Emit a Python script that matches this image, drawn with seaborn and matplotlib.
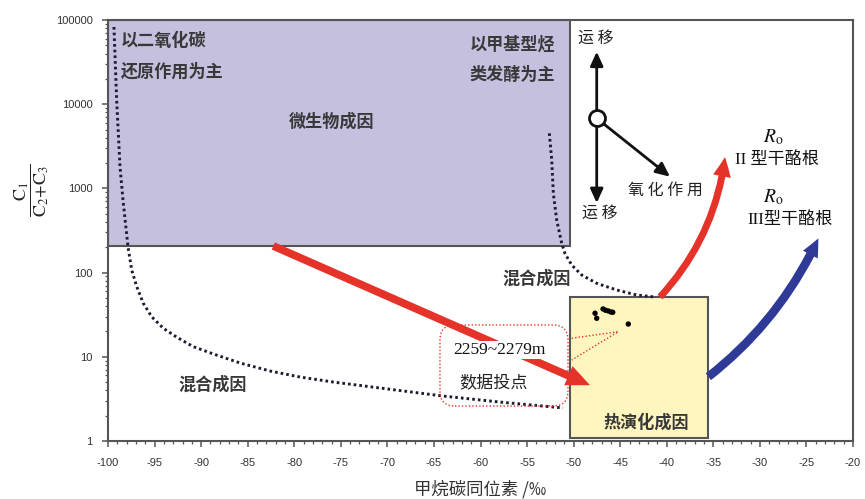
import numpy as np
import pandas as pd
import matplotlib
matplotlib.use("Agg")
import matplotlib.pyplot as plt
import seaborn as sns
from matplotlib.patches import Rectangle, FancyArrowPatch, FancyBboxPatch, ArrowStyle
from matplotlib.ticker import FixedLocator, MultipleLocator, LogLocator, NullFormatter

# ---- data -----------------------------------------------------------------
# measured gas samples (2259~2279 m): methane δ13C (‰) and C1/(C2+C3)
sample_d13c = [-47.70, -47.52, -46.84, -46.57, -46.27, -45.99, -45.80, -44.13]
sample_ratio = [32.9, 28.7, 37.0, 35.7, 35.0, 34.0, 33.8, 24.5]

# mixing boundary, CO2-reduction side
left_mix_x = [-99.36, -99.07, -98.71, -98.39, -97.85, -97.45, -96.91, -96.21,
              -95.31, -94.06, -92.62, -90.84, -88.68, -85.82, -82.60, -79.38,
              -75.84, -70.79, -64.03, -57.91, -51.14]
left_mix_y = [82600, 11200, 1795, 728, 201, 107, 68.0, 43.2,
              29.9, 21.8, 17.1, 13.2, 10.8, 8.44, 6.78, 5.75,
              5.02, 4.26, 3.42, 2.90, 2.47]

# mixing boundary, methyl-fermentation side
right_mix_x = [-52.61, -52.35, -52.18, -51.82, -51.28, -50.93, -50.21, -49.13,
               -47.52, -45.37, -43.22, -41.26]
right_mix_y = [4510, 2175, 875, 422, 223, 169, 123, 93.6,
               74.6, 62.1, 54.2, 51.3]

# genetic fields (δ13C range, ratio range)
bio_field = (-100.0, -50.4, 207.0, 100000.0)
thermo_field = (-50.4, -35.6, 1.09, 51.7)

x_ticks = [-100, -95, -90, -85, -80, -75, -70, -65, -60, -55, -50, -45, -40, -35, -30, -25, -20]
y_ticks = [1, 10, 100, 1000, 10000, 100000]
y_tick_labels = ["1", "10", "100", "1000", "10000", "100000"]

# ---- style ----------------------------------------------------------------
sns.set_theme(style="ticks")
plt.rcParams["font.family"] = ["Noto Sans CJK SC", "DejaVu Sans"]
plt.rcParams["axes.unicode_minus"] = False
plt.rcParams["mathtext.fontset"] = "stix"

CJK = ["Noto Sans CJK SC", "DejaVu Sans"]
SERIF = ["Liberation Serif", "DejaVu Serif"]
SERIF_CJK = ["Liberation Serif", "Noto Sans CJK SC"]
TXT = "#383838"
RED = "#e5332a"
BLUE = "#2f3a97"

fig = plt.figure(figsize=(8.65, 4.99), dpi=100)
ax = fig.add_axes([108 / 865, 58 / 499, 745 / 865, 421 / 499])
ax.set_yscale("log")
ax.set_xlim(-100, -20)
ax.set_ylim(1, 100000)

# genetic fields
bx0, bx1, by0, by1 = bio_field
ax.add_patch(Rectangle((bx0, by0), bx1 - bx0, by1 - by0, facecolor="#c5c0de",
                       edgecolor="#555555", lw=1.5, zorder=1))
tx0, tx1, ty0, ty1 = thermo_field
ax.add_patch(Rectangle((tx0, ty0), tx1 - tx0, ty1 - ty0, facecolor="#fff6bf",
                       edgecolor="#555555", lw=1.5, zorder=1))

# mixing boundaries (dotted)
dot_kw = dict(color="#1c1c30", lw=2.1, linestyle=(0, (0.9, 1.05)),
              dash_capstyle="butt", zorder=2)
sns.lineplot(data=pd.DataFrame({"x": left_mix_x, "y": left_mix_y}), x="x", y="y",
             sort=False, estimator=None, ax=ax, **dot_kw)
sns.lineplot(data=pd.DataFrame({"x": right_mix_x, "y": right_mix_y}), x="x", y="y",
             sort=False, estimator=None, ax=ax, **dot_kw)

# sample points
sns.scatterplot(x=sample_d13c, y=sample_ratio, ax=ax, color="black", s=15,
                edgecolor="none", zorder=4)

# callout frame around the sample label
ax.add_patch(FancyBboxPatch((0.4456, 0.0831), 0.6174 - 0.4456, 0.2755 - 0.0831,
                            boxstyle="round,pad=0,rounding_size=0.02",
                            mutation_aspect=1.77, transform=ax.transAxes,
                            facecolor="none", edgecolor=RED, lw=1.0,
                            linestyle=(0, (1, 1.5)), zorder=3))
ax.plot([-50.21, -45.20, -50.21], [16.6, 19.9, 9.16], color=RED, lw=1.0,
        linestyle=(0, (1, 1.5)), zorder=3)

# evolution arrows
red_line = FancyArrowPatch((-82.25, 207), (-48.24, 4.6),
                           arrowstyle=ArrowStyle.Simple(head_length=17, head_width=15, tail_width=5.6),
                           mutation_scale=1, color=RED, lw=0, shrinkA=0, shrinkB=0, zorder=4)
ax.add_patch(red_line)
red_curve = FancyArrowPatch((-40.72, 51.3), (-33.74, 2360),
                            connectionstyle="arc3,rad=0.16",
                            arrowstyle=ArrowStyle.Simple(head_length=14, head_width=13, tail_width=5.0),
                            mutation_scale=1, color=RED, lw=0, shrinkA=0, shrinkB=0, zorder=4)
ax.add_patch(red_curve)
blue_curve = FancyArrowPatch((-35.53, 5.8), (-23.72, 255),
                             connectionstyle="arc3,rad=0.12",
                             arrowstyle=ArrowStyle.Simple(head_length=13, head_width=12, tail_width=6.2),
                             mutation_scale=1, color=BLUE, lw=0, shrinkA=0, shrinkB=0, zorder=4)
ax.add_patch(blue_curve)

# migration / oxidation sketch
hub = (-47.52, 6800)
for tip in [(-47.52, 42000), (-47.52, 671), (-39.65, 1377)]:
    ax.add_patch(FancyArrowPatch(hub, tip, arrowstyle="-|>,head_length=0.7,head_width=0.32",
                                 mutation_scale=12, color="#111111", lw=2.0,
                                 shrinkA=6, shrinkB=0, zorder=5))
ax.plot([hub[0]], [hub[1]], marker="o", markersize=11.5, mfc="white", mec="#111111",
        mew=2.0, zorder=6)

# labels
bold = dict(family=CJK, fontsize=12.3, fontweight="bold", color=TXT, zorder=7)
ax.text(-98.64, 56800, "以二氧化碳", ha="left", va="center", **bold)
ax.text(-98.64, 24300, "还原作用为主", ha="left", va="center", **bold)
ax.text(-52.0, 50500, "以甲基型烃", ha="right", va="center", **bold)
ax.text(-52.0, 22200, "类发酵为主", ha="right", va="center", **bold)
ax.text(-75.98, 6200, "微生物成因", ha="center", va="center", **bold)
ax.text(-53.97, 85.6, "混合成因", ha="center", va="center", **bold)
ax.text(-88.76, 4.63, "混合成因", ha="center", va="center", **bold)
ax.text(-42.15, 1.64, "热演化成因", ha="center", va="center", **bold)

ax.text(-57.94, 12.0, "2259~2279m", ha="center", va="center", family=SERIF,
        fontsize=12.5, color="#111111", zorder=7,
        bbox=dict(facecolor="white", edgecolor="none", pad=0.5))
ax.text(-58.63, 5.06, "数据投点", ha="center", va="center", family=CJK,
        fontsize=12.3, color="#222222", zorder=7)

plain = dict(family=CJK, fontsize=11.5, color="#222222", zorder=7)
ax.text(-47.6, 60000, "运 移", ha="center", va="center", **plain)
ax.text(-47.17, 510, "运 移", ha="center", va="center", **plain)
ax.text(-40.19, 940, "氧 化 作 用", ha="center", va="center", **plain)

ax.text(-28.59, 4080, r"$\mathbf{\mathit{R}}_{\mathrm{o}}$", ha="center", va="center",
        fontsize=14, color="#111111", zorder=7)
ax.text(-28.20, 2175, "II 型干酪根", ha="center", va="center", family=SERIF_CJK,
        fontsize=12.3, color="#111111", zorder=7)
ax.text(-28.59, 790, r"$\mathbf{\mathit{R}}_{\mathrm{o}}$", ha="center", va="center",
        fontsize=14, color="#111111", zorder=7)
ax.text(-26.76, 421, "III型干酪根", ha="center", va="center", family=SERIF_CJK,
        fontsize=12.3, color="#111111", zorder=7)

# axes, ticks
ax.xaxis.set_major_locator(FixedLocator(x_ticks))
ax.set_xticklabels([str(v) for v in x_ticks])
ax.xaxis.set_minor_locator(MultipleLocator(1))
ax.yaxis.set_major_locator(FixedLocator(y_ticks))
ax.set_yticklabels(y_tick_labels)
ax.yaxis.set_minor_locator(LogLocator(base=10, subs=np.arange(2, 10)))
ax.yaxis.set_minor_formatter(NullFormatter())

ax.tick_params(which="major", direction="out", length=4, width=1.1, color="#555555",
               labelsize=8, labelcolor="#333333")
ax.tick_params(which="minor", direction="out", length=2.5, width=0.9, color="#555555")
ax.tick_params(axis="x", which="major", pad=8)
ax.tick_params(axis="y", which="major", pad=7)
for lab in ax.get_xticklabels() + ax.get_yticklabels():
    lab.set_family(["Liberation Sans", "DejaVu Sans"])

for sp in ax.spines.values():
    sp.set_color("#555555")
    sp.set_linewidth(1.5)
    sp.set_visible(True)

ax.set_xlabel("甲烷碳同位素 /‰", family=CJK, fontsize=12.5, color="#333333", labelpad=9)
ax.set_ylabel("")
fig.text(32 / 865, 1 - 190 / 499, r"$\dfrac{\mathrm{C}_1}{\mathrm{C}_2\!+\!\mathrm{C}_3}$",
         rotation=90, ha="center", va="center", fontsize=13, color="#222222")

fig.savefig("out.png", dpi=100)
